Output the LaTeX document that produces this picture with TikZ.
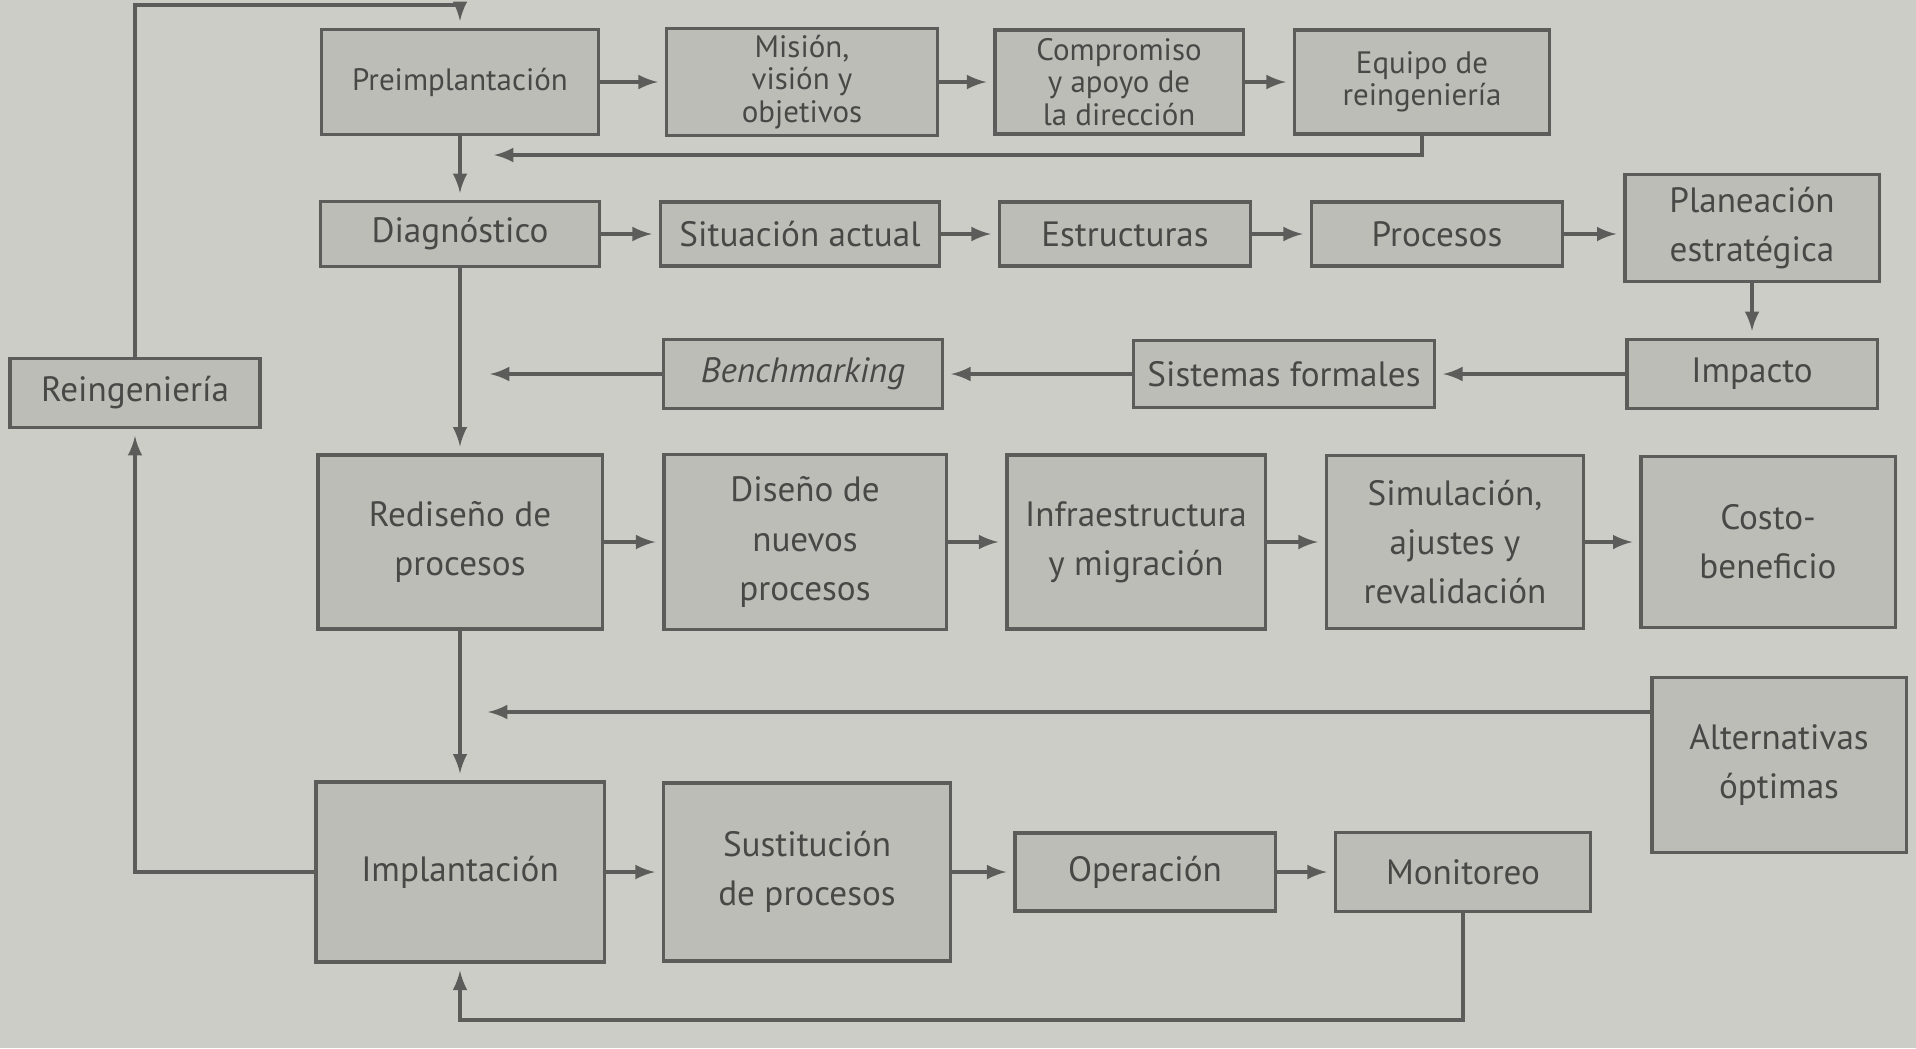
\documentclass[tikz,border=0pt]{standalone}
\usepackage{fontspec}
\setmainfont{PT Sans}
\definecolor{fondo}{RGB}{205,205,200}
\definecolor{relleno}{RGB}{189,189,184}
\definecolor{linea}{RGB}{92,92,90}
\definecolor{texto}{RGB}{72,72,70}
\tikzset{
	caja/.style={draw=linea,fill=relleno,text=texto,align=center,line width=.9pt,inner sep=2pt},
	chica/.style={font=\fontsize{8.8}{9.2}\selectfont},
	grande/.style={font=\fontsize{10}{14}\selectfont},
	flecha/.style={->,draw=linea,line width=.9pt,shorten >=2pt}
}

\begin{document}
\begin{tikzpicture}[x={(.01cm,0)},y={(0,-.01cm)},>=latex]

\fill[fondo] (0,0) rectangle (1916,1048);

% preimplantacion
\node[caja,chica,minimum width=2.77cm,minimum height=1.05cm] (pre) at (460,82) {Preimplantación};
\node[caja,chica,minimum width=2.71cm,minimum height=1.03cm] (mision) at (802,82) {Misión,\\visión y\\objetivos};
\node[caja,chica,minimum width=2.48cm,minimum height=1.04cm] (comp) at (1119,82) {Compromiso\\y apoyo de\\la dirección};
\node[caja,chica,minimum width=2.55cm,minimum height=1.04cm] (equipo) at (1422,82) {Equipo de\\reingeniería};

% diagnostico
\node[caja,grande,minimum width=2.79cm,minimum height=.65cm] (diag) at (460,234) {Diagnóstico};
\node[caja,grande,minimum width=2.79cm,minimum height=.64cm] (situ) at (800,234) {Situación actual};
\node[caja,grande,minimum width=2.51cm,minimum height=.64cm] (estr) at (1125,234) {Estructuras};
\node[caja,grande,minimum width=2.51cm,minimum height=.64cm] (proc) at (1437,234) {Procesos};
\node[caja,grande,minimum width=2.54cm,minimum height=1.07cm] (plan) at (1752,228) {Planeación\\estratégica};
\node[caja,grande,minimum width=2.50cm,minimum height=.69cm] (imp) at (1752,374) {Impacto};
\node[caja,grande,minimum width=3.01cm,minimum height=.67cm] (sist) at (1284,374) {Sistemas formales};
\node[caja,grande,minimum width=2.79cm,minimum height=.69cm] (bench) at (803,374) {\textit{Benchmarking}};
\node[caja,grande,minimum width=2.50cm,minimum height=.69cm] (reing) at (135,393) {Reingeniería};

% rediseno
\node[caja,grande,minimum width=2.84cm,minimum height=1.74cm] (rediseno) at (460,542) {Rediseño de\\procesos};
\node[caja,grande,minimum width=2.82cm,minimum height=1.75cm] (diseno) at (805,542) {Diseño de\\nuevos\\procesos};
\node[caja,grande,minimum width=2.58cm,minimum height=1.74cm] (infra) at (1136,542) {Infraestructura\\y migración};
\node[caja,grande,minimum width=2.57cm,minimum height=1.73cm] (simul) at (1455,542) {Simulación,\\ajustes y\\revalidación};
\node[caja,grande,minimum width=2.54cm,minimum height=1.71cm] (costo) at (1768,542) {Costo-\\beneficio};
\node[caja,grande,minimum width=2.54cm,minimum height=1.75cm] (alt) at (1779,765) {Alternativas\\óptimas};

% implantacion
\node[caja,grande,minimum width=2.88cm,minimum height=1.80cm] (impl) at (460,872) {Implantación};
\node[caja,grande,minimum width=2.87cm,minimum height=1.78cm] (sustit) at (807,872) {Sustitución\\de procesos};
\node[caja,grande,minimum width=2.60cm,minimum height=.78cm] (oper) at (1145,872) {Operación};
\node[caja,grande,minimum width=2.55cm,minimum height=.79cm] (monit) at (1463,872) {Monitoreo};

\coordinate (arriba) at (460,5);
\coordinate (r1) at (487,155);
\coordinate (b1) at (483,374);
\coordinate (a1) at (481,712);
\coordinate (abajo) at (1463,1020);

\foreach \a/\b in {pre/mision,mision/comp,comp/equipo,diag/situ,situ/estr,estr/proc,
	rediseno/diseno,diseno/infra,infra/simul,simul/costo,impl/sustit,sustit/oper,oper/monit}
	\draw[flecha] (\a) -- (\b);

\draw[flecha] (proc.east) -- (proc.east -| plan.west);
\draw[flecha] (plan) -- (imp);
\draw[flecha] (imp) -- (sist);
\draw[flecha] (sist) -- (bench);
\draw[flecha] (bench) -- (b1);
\draw[flecha] (pre) -- (diag);
\draw[flecha] (equipo.south) |- (r1);
\draw[flecha] (diag) -- (rediseno);
\draw[flecha] (rediseno) -- (impl);
\draw[flecha] (alt.west |- a1) -- (a1);
\draw[flecha] (monit.south) -- (abajo) -| (impl.south);
\draw[flecha] (impl.west) -| (reing.south);
\draw[flecha] (reing.north) |- (arriba) -- (pre.north);

\end{tikzpicture}
\end{document}
